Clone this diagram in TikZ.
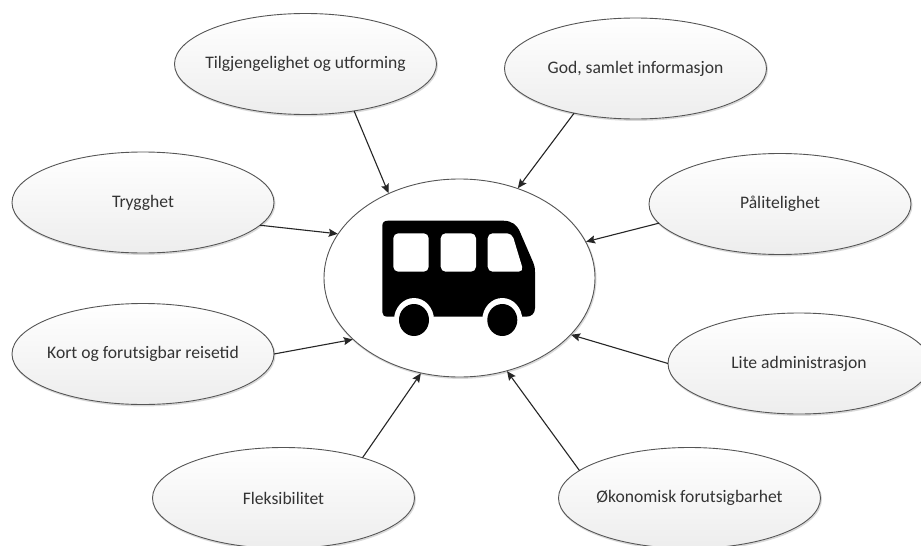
\documentclass[tikz,border=0pt]{standalone}
\usepackage{fontspec}
\setmainfont{Carlito}
\usetikzlibrary{arrows.meta,shapes.geometric}
\definecolor{edgegray}{HTML}{555555}
\definecolor{inkgray}{HTML}{333333}
\newcommand{\flatlabel}[1]{\makebox[0pt][c]{#1}}
\tikzset{
  softedge/.style={preaction={draw=black!15,line width=1.6pt,transform canvas={xshift=0.7pt,yshift=-1.1pt}}},
  topic/.style={ellipse,draw=edgegray,line width=0.9pt,top color=white,bottom color=black!7,
    minimum width=262pt,minimum height=101pt,inner sep=0pt,outer sep=0pt,
    text=inkgray,font=\fontsize{17.6}{20}\selectfont,softedge},
  hub/.style={ellipse,draw=edgegray,line width=0.9pt,fill=white,
    minimum width=271pt,minimum height=198pt,inner sep=0pt,outer sep=0pt,softedge},
  link/.style={draw=black!85,line width=1.1pt,-{Stealth[length=9pt,width=8pt,inset=1.5pt]},shorten >=0.5pt},
  busbody/.style={fill=black,draw=none},
  buscut/.style={fill=white,draw=none}
}
\begin{document}
\begin{tikzpicture}[x=1pt,y=-1pt]
\clip (0,0) rectangle (921,546);
\fill[white] (0,0) rectangle (921,546);
\node[hub] (hub) at (459.5,278) {};
\node[topic] (tilg) at (305.5,64) {\flatlabel{Tilgjengelighet og utforming}};
\node[topic] (god) at (635.5,68.5) {\flatlabel{God, samlet informasjon}};
\node[topic] (paal) at (780,204) {\flatlabel{Pålitelighet}};
\node[topic] (lite) at (799,363.5) {\flatlabel{Lite administrasjon}};
\node[topic] (oko) at (689.5,498) {\flatlabel{Økonomisk forutsigbarhet}};
\node[topic] (fleks) at (283.5,498) {\flatlabel{Fleksibilitet}};
\node[topic] (kort) at (143,354) {\flatlabel{Kort og forutsigbar reisetid}};
\node[topic] (trygg) at (143,202.5) {\flatlabel{Trygghet}};
% bus icon
\fill[busbody] (388,220.7) -- (503,220.7) .. controls (512,220.7) and (517,225) .. (520,232)
  -- (533,262) .. controls (534.5,266) and (535,268) .. (535,272) -- (535,308)
  .. controls (535,314) and (531,316.7) .. (526,316.7) -- (388,316.7)
  .. controls (384,316.7) and (382.3,315) .. (382.3,312) -- (382.3,226)
  .. controls (382.3,222.5) and (384,220.7) .. (388,220.7) -- cycle;
\fill[buscut,rounded corners=5pt] (393.3,233.3) rectangle (428.7,271.7);
\fill[buscut,rounded corners=5pt] (440.7,233.3) rectangle (476,271.7);
\fill[buscut,rounded corners=5pt] (487.7,233.3) -- (512,233.3) -- (523.6,271.7) -- (487.7,271.7) -- cycle;
\fill[buscut] (414,320) ellipse (20 and 22);
\fill[buscut] (502.3,320) ellipse (20 and 22);
\fill[busbody] (414,320) ellipse (15 and 16);
\fill[busbody] (502.3,320) ellipse (15 and 16);
% connectors
\draw[link] (tilg.-44) -- (hub.130.4);
\draw[link] (god.-144.2) -- (hub.57.6);
\draw[link] (paal.189.9) -- (hub.16.1);
\draw[link] (lite.180) -- (hub.-27.6);
\draw[link] (oko.166.6) -- (hub.-63.6);
\draw[link] (fleks.27.2) -- (hub.-112.8);
\draw[link] (kort.0) -- (hub.210.5);
\draw[link] (trygg.-11.7) -- (hub.160.2);
\end{tikzpicture}
\end{document}
